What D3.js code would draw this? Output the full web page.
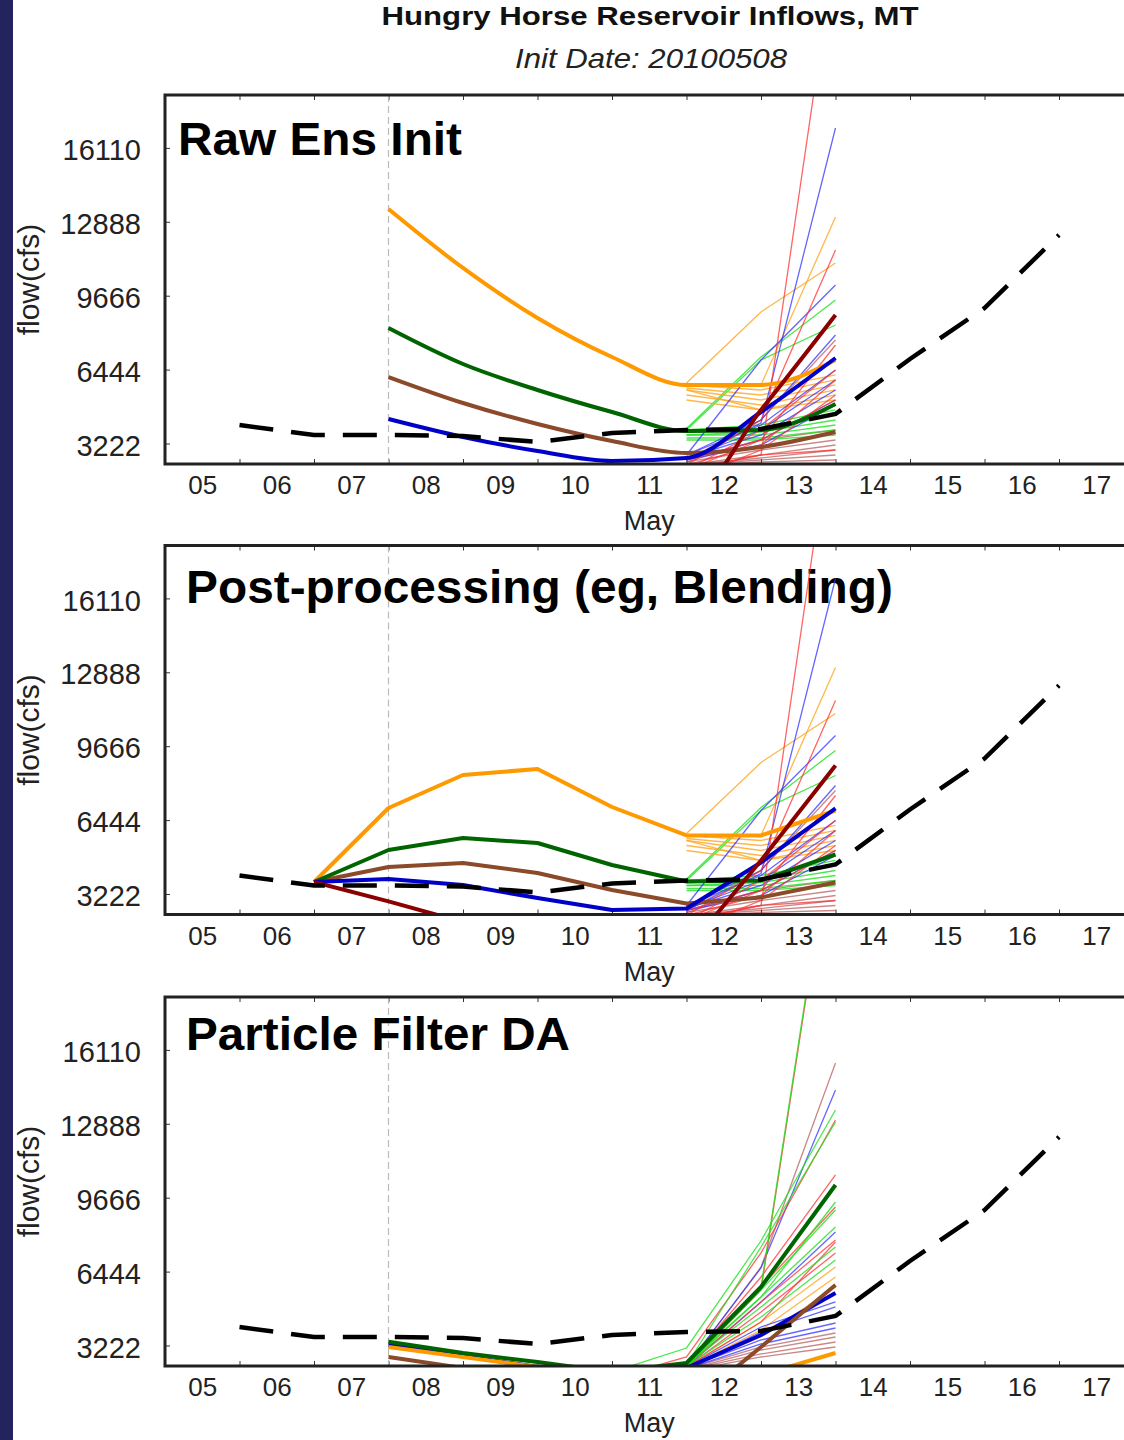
<!DOCTYPE html>
<html>
<head>
<meta charset="utf-8">
<script src="https://cdn.jsdelivr.net/npm/d3@7"></script>
<style>
  body { margin: 0; background: #fff; }
  svg { display: block; font-family: "Liberation Sans", Arial, Helvetica, sans-serif; }
</style>
</head>
<body>
<div id="chart"></div>
<script>
// ---- data (flow in cfs, x = day of May) ----
const yTicks = [3222, 6444, 9666, 12888, 16110];
const dayLabels = ["05", "06", "07", "08", "09", "10", "11", "12", "13", "14", "15", "16", "17"];
const initDay = 8;

const obsDays = [6, 7, 8, 9, 10, 11, 12, 13, 14, 15, 16, 17];
const obsFlow = [4029, 3593, 3593, 3549, 3287, 3680, 3811, 3854, 4508, 6906, 9130, 12313];

// raw ensemble init (days 8..14)
const rawDays = [8, 9, 10, 11, 12, 13, 14];
const rawOrange = [13446, 10874, 8694, 6993, 5773, 5773, 6863];
const rawGreen = [8258, 6688, 5555, 4595, 3767, 3811, 4944];
const rawBrown = [6121, 4988, 4072, 3331, 2808, 3069, 3723];
const rawBlue = [4290, 3505, 2895, 2459, 2590, 4595, 6950];
const rawDarkRed = [1500, 1100, 900, 700, 759, 4682, 8825];

// post-processed / blended (days 7..14)
const blendDays = [7, 8, 9, 10, 11, 12, 13, 14];
const blendOrange = [3745, 6972, 8410, 8672, 7015, 5773, 5773, 6863];
const blendGreen = [3745, 5140, 5664, 5446, 4486, 3767, 3811, 4944];
const blendBrown = [3745, 4399, 4573, 4137, 3396, 2808, 3069, 3723];
const blendBlue = [3745, 3876, 3614, 3048, 2524, 2590, 4595, 6950];
const blendDarkRed = [3745, 2900, 2000, 1500, 1000, 759, 4682, 8825];

// particle filter DA (days 8..14)
const pfDays = [8, 9, 10, 11, 12, 13, 14];
const pfGreen = [3388, 2895, 2503, 2067, 2459, 5773, 10220];
const pfOrange = [3157, 2721, 2285, 1500, 2067, 1936, 2895];
const pfBrown = [2721, 2241, 1800, 1500, 500, 3157, 5860];
const pfBlue = [3244, 2764, 2285, 1800, 2241, 3680, 5511];

// ensemble members, raw & blended share them (days 12..14)
const memberDays = [12, 13, 14];
const memberRed = [[2067, 2721, 24957], [2285, 4247, 11659], [2067, 3375, 7517], [2067, 3811, 6427],
  [2285, 3157, 5991], [1631, 2939, 5337], [2067, 2721, 2939], [2503, 3375, 5119]];
const memberBlue = [[2503, 4116, 16978], [2721, 6863, 10133], [2721, 4247, 7953], [2721, 4029, 6427],
  [2590, 3811, 5991], [2590, 3593, 5555], [2503, 3375, 5119], [2503, 3157, 4901]];
const memberOrange = [[5773, 5773, 13097], [5860, 8955, 11092], [5773, 5555, 6209], [5642, 5337, 5991],
  [5555, 5119, 5773], [5337, 4901, 5555], [5555, 4683, 5337], [5119, 4683, 5119]];
const memberGreen = [[3876, 6994, 9479], [3811, 6863, 8389], [3811, 4029, 4683], [3723, 3811, 4465],
  [3593, 3723, 4247], [3593, 3593, 4029], [3462, 3462, 3811], [3375, 3375, 3593]];
const memberMaroon = [[2503, 4247, 7735], [2416, 3375, 3811], [2416, 2939, 3375], [2285, 2721, 3157],
  [2285, 2590, 2939], [2285, 2503, 2721], [2241, 2416, 2503]];

// particle filter members (days 11..14)
const pfMemberDays = [11, 12, 13, 14];
const pfMemberGreen = [[1800, 2372, 5773, 26875], [2067, 3113, 7788, 13490], [1800, 2328, 5642, 9130],
  [1800, 2416, 5337, 8389], [1800, 2372, 4901, 7517], [1800, 2328, 4465, 6950],
  [1800, 2328, 5337, 9479], [1800, 2372, 7517, 12967]];
const pfMemberRed = [[1800, 2328, 5642, 26700], [1800, 2721, 7255, 13054], [1800, 2372, 6209, 10656],
  [1800, 2372, 5773, 9261], [1800, 2328, 5119, 7822], [1800, 2285, 4683, 7255], [1800, 2285, 4247, 7735]];
const pfMemberBlue = [[1800, 2328, 6601, 14362], [1800, 2285, 4029, 5119], [1800, 2241, 3811, 4901],
  [1800, 2241, 3462, 4203], [1800, 2198, 3288, 3985], [1800, 2285, 5119, 8171]];
const pfMemberOrange = [[1800, 2285, 4247, 6645], [1800, 2241, 3898, 6209], [1800, 2241, 3593, 5773]];
const pfMemberMaroon = [[1800, 2285, 6645, 15539], [1800, 2198, 3157, 3767], [1800, 2154, 3026, 3593],
  [1800, 2154, 2852, 3375], [1800, 2110, 2721, 3157]];

// ---- layout ----
const width = 1124, height = 1440;
const panelH = 369;
const thin = { red: "rgba(255,50,50,0.75)", blue: "rgba(50,50,255,0.75)", orange: "rgba(255,165,30,0.8)",
  green: "rgba(30,225,30,0.8)", maroon: "rgba(165,55,55,0.6)" };
const thick = { orange: "#ff9900", green: "#006400", brown: "#8b4a2a", blue: "#0000c8", darkred: "#8b0000" };

const panels = [
  { top: 95, title: "Raw Ens Init", tx: 178, tb: 60, tw: 284, curve: d3.curveMonotoneX,
    members: [[memberMaroon, "maroon"], [memberGreen, "green"], [memberOrange, "orange"], [memberBlue, "blue"], [memberRed, "red"]],
    mDays: memberDays, days: rawDays,
    lines: [[rawOrange, "orange"], [rawBrown, "brown"], [rawGreen, "green"], [rawBlue, "blue"], [rawDarkRed, "darkred"]] },
  { top: 545.5, title: "Post-processing (eg, Blending)", tx: 186, tb: 57, tw: 707, curve: d3.curveLinear,
    members: [[memberMaroon, "maroon"], [memberGreen, "green"], [memberOrange, "orange"], [memberBlue, "blue"], [memberRed, "red"]],
    mDays: memberDays, days: blendDays,
    lines: [[blendOrange, "orange"], [blendBrown, "brown"], [blendGreen, "green"], [blendBlue, "blue"], [blendDarkRed, "darkred"]] },
  { top: 997, title: "Particle Filter DA", tx: 186, tb: 53, tw: 384, curve: d3.curveLinear,
    members: [[pfMemberMaroon, "maroon"], [pfMemberOrange, "orange"], [pfMemberBlue, "blue"], [pfMemberRed, "red"], [pfMemberGreen, "green"]],
    mDays: pfMemberDays, days: pfDays,
    lines: [[pfBlue, "blue"], [pfBrown, "brown"], [pfOrange, "orange"], [pfGreen, "green"]] }
];

const svg = d3.select("#chart").append("svg")
  .attr("width", width)
  .attr("height", height);

svg.append("rect").attr("width", width).attr("height", height).attr("fill", "#fff");
svg.append("rect").attr("width", 13).attr("height", height).attr("fill", "#23235e");

svg.append("text")
  .attr("x", 650).attr("y", 25)
  .attr("text-anchor", "middle")
  .attr("font-weight", "bold").attr("font-size", 26)
  .attr("textLength", 537).attr("lengthAdjust", "spacingAndGlyphs")
  .attr("fill", "#111")
  .text("Hungry Horse Reservoir Inflows, MT");

svg.append("text")
  .attr("x", 651).attr("y", 68)
  .attr("text-anchor", "middle")
  .attr("font-style", "italic").attr("font-size", 28)
  .attr("textLength", 272).attr("lengthAdjust", "spacingAndGlyphs")
  .attr("fill", "#222")
  .text("Init Date: 20100508");

const x = d3.scaleLinear().domain([5, 18]).range([165, 1133.5]);
const labelDays = dayLabels.map((d, i) => 5.5 + i);
const boundaryDays = d3.range(6, 18);

panels.forEach((p, pi) => {
  const y = d3.scaleLinear().domain([2328, 18416]).range([p.top + panelH, p.top]);
  const g = svg.append("g");
  const clipId = "clip" + pi;
  svg.append("clipPath").attr("id", clipId)
    .append("rect")
    .attr("x", x.range()[0]).attr("y", p.top)
    .attr("width", x.range()[1] - x.range()[0]).attr("height", panelH);

  // y axis
  const yAxis = g.append("g")
    .attr("transform", `translate(${x.range()[0]},0)`)
    .call(d3.axisLeft(y).tickValues(yTicks).tickSize(-5).tickPadding(24).tickFormat(d3.format("d")));
  yAxis.select(".domain").remove();
  yAxis.selectAll("line").attr("stroke", "#333");
  yAxis.selectAll("text").attr("font-size", 29).attr("fill", "#222")
    .attr("font-family", "'Liberation Sans', Arial, sans-serif").attr("dy", "0.4em");

  // x axis labels
  const xAxis = g.append("g")
    .attr("transform", `translate(0,${p.top + panelH})`)
    .call(d3.axisBottom(x).tickValues(labelDays).tickSize(0).tickPadding(12)
      .tickFormat((d, i) => dayLabels[i]));
  xAxis.select(".domain").remove();
  xAxis.selectAll("text").attr("font-size", 26).attr("fill", "#222")
    .attr("font-family", "'Liberation Sans', Arial, sans-serif");

  // day boundary ticks on top and bottom
  const bt = g.append("g").attr("transform", `translate(0,${p.top + panelH})`)
    .call(d3.axisBottom(x).tickValues(boundaryDays).tickSize(-5).tickFormat(""));
  bt.select(".domain").remove();
  bt.selectAll("line").attr("stroke", "#333");
  const tt = g.append("g").attr("transform", `translate(0,${p.top})`)
    .call(d3.axisTop(x).tickValues(boundaryDays).tickSize(-5).tickFormat(""));
  tt.select(".domain").remove();
  tt.selectAll("line").attr("stroke", "#333");

  g.append("text")
    .attr("x", x(11.5)).attr("y", p.top + panelH + 66)
    .attr("text-anchor", "middle").attr("font-size", 27).attr("fill", "#222")
    .text("May");

  g.append("text")
    .attr("transform", `translate(28,${p.top + panelH / 2}) rotate(-90)`)
    .attr("text-anchor", "middle").attr("dominant-baseline", "central")
    .attr("font-size", 30).attr("fill", "#222")
    .text("flow(cfs)");

  // init date line
  g.append("line")
    .attr("x1", x(initDay)).attr("x2", x(initDay))
    .attr("y1", p.top).attr("y2", p.top + panelH)
    .attr("stroke", "#bbb").attr("stroke-width", 1.2)
    .attr("stroke-dasharray", "7,4");

  // panel title
  g.append("text")
    .attr("x", p.tx).attr("y", p.top + p.tb)
    .attr("font-weight", "bold").attr("font-size", 47)
    .attr("textLength", p.tw).attr("lengthAdjust", "spacingAndGlyphs")
    .attr("fill", "#000")
    .text(p.title);

  const plot = g.append("g").attr("clip-path", `url(#${clipId})`);

  // thin members
  p.members.forEach(([set, col]) => {
    const line = d3.line().x((d, i) => x(p.mDays[i])).y(d => y(d));
    plot.selectAll(null).data(set).enter()
      .append("path")
      .attr("d", d => line(d))
      .attr("fill", "none")
      .attr("stroke", thin[col])
      .attr("stroke-width", 1.3);
  });

  // thick forecast lines
  const lineT = d3.line().curve(p.curve).x((d, i) => x(p.days[i])).y(d => y(d));
  p.lines.forEach(([vals, col]) => {
    plot.append("path")
      .attr("d", lineT(vals))
      .attr("fill", "none")
      .attr("stroke", thick[col])
      .attr("stroke-width", 4)
      .attr("stroke-linejoin", "round");
  });

  // observed
  const lineO = d3.line().x((d, i) => x(obsDays[i])).y(d => y(d));
  plot.append("path")
    .attr("d", lineO(obsFlow))
    .attr("fill", "none")
    .attr("stroke", "#000")
    .attr("stroke-width", 4.5)
    .attr("stroke-dasharray", "34,18");

  // frame (left, top, bottom; right side runs past the picture)
  g.append("path")
    .attr("d", `M${x.range()[1]},${p.top}H${x.range()[0]}V${p.top + panelH}H${x.range()[1]}`)
    .attr("fill", "none")
    .attr("stroke", "#222")
    .attr("stroke-width", 3);
});
</script>
</body>
</html>
